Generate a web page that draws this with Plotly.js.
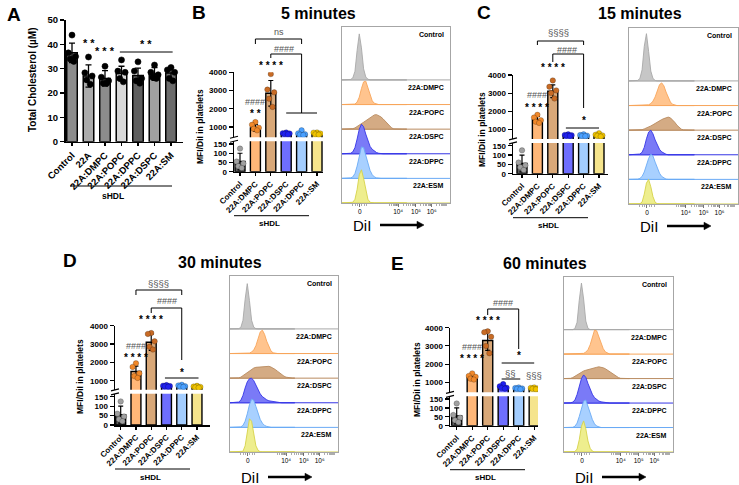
<!DOCTYPE html>
<html><head><meta charset="utf-8">
<script src="https://cdn.plot.ly/plotly-3.0.1.min.js"></script>
<style>html,body{margin:0;padding:0;background:#fff}#chart{width:739px;height:485px}</style>
</head><body><div id="chart"></div>
<script>
// ================= DATA =================
// Panel A: total cholesterol (µM)
const aCats = ["Control","22A","22A:DMPC","22A:POPC","22A:DPPC","22A:DSPC","22A:SM"];
const aMean = [36.5, 27, 26, 28, 27.2, 27.8, 28.2];
const aSD   = [4, 4.6, 3.2, 3, 3, 2.6, 2.4];
const aDots = [[43.8,36.5,35,34,33],[34.8,28.3,27,25.4,23.6],[31,26.5,25,24,24],[33.6,29,28.5,26,24.6],[32.8,29,26,25,24],[31.5,28.5,27.5,26.5,26],[30.5,29.5,28.5,26,25]];

// Panels B-E: MFI/DiI in platelets
const barCats = ["Control","22A:DMPC","22A:POPC","22A:DSPC","22A:DPPC","22A:SM"];
const mean5  = [55, 950, 2850, 620, 600, 620];
const sd5    = [45, 180, 700, 60, 110, 60];
const dots5  = [[125,55,45,30,20],[1270,1120,960,900,815],[3900,3050,2900,2550,2100],[700,660,640,620,600],[820,650,600,580,560],[700,690,640,600,580]];
const mean15 = [55, 1530, 3100, 650, 640, 650];
const sd15   = [45, 180, 350, 60, 60, 80];
const dots15 = [[125,60,45,35,20],[1800,1650,1500,1420,1350],[3700,3350,3150,3000,2700],[720,690,670,650,630],[720,680,650,630,620],[780,700,660,640,600]];
const mean30 = [55, 1500, 3100, 700, 700, 650];
const sd30   = [45, 300, 450, 50, 60, 50];
const dots30 = [[125,60,45,30,20],[1950,1750,1400,1250,1150],[3600,3550,3150,2850,2700],[760,730,710,690,670],[780,740,700,680,660],[720,680,660,640,620]];
const mean60 = [55, 1260, 3300, 720, 650, 650];
const sd60   = [45, 130, 550, 100, 50, 50];
const dots60 = [[125,60,45,30,20],[1490,1350,1300,1200,1150],[3800,3750,3500,3000,2600],[900,780,700,680,650],[720,680,660,640,620],[720,690,660,640,620]];

// Flow histograms (DiI channel, arbitrary display units), rows top->bottom
const histRows = ["Control","22A:DMPC","22A:POPC","22A:DSPC","22A:DPPC","22A:ESM"];
const histX = [0,2,4,6,8,10,12,14,16,18,20,22,24,26,28,30,32,34,36,38,40,42,44,46,48,50,52,54,56,58,60];
const histTickText = ["0","10⁴","10⁵","10⁶"];
const hist5 = [
 [0,0,0,0,0.02,0.08,0.35,1.2,1.87,1.3,0.45,0.12,0.03,0,0,0,0,0,0,0,0,0,0,0,0,0,0,0,0,0,0],
 [0,0,0,0,0,0,0.02,0.1,0.3,0.65,0.92,0.95,0.7,0.38,0.15,0.05,0.01,0,0,0,0,0,0,0,0,0,0,0,0,0,0],
 [0,0,0,0,0,0.02,0.05,0.1,0.16,0.22,0.28,0.34,0.4,0.46,0.53,0.58,0.59,0.56,0.5,0.42,0.32,0.22,0.12,0.05,0.01,0,0,0,0,0,0],
 [0,0,0,0,0.02,0.08,0.25,0.6,1.0,1.2,1.1,0.8,0.5,0.3,0.18,0.1,0.05,0.02,0,0,0,0,0,0,0,0,0,0,0,0,0],
 [0,0,0,0,0.02,0.06,0.2,0.5,0.95,1.28,1.25,0.95,0.6,0.32,0.15,0.06,0.02,0,0,0,0,0,0,0,0,0,0,0,0,0,0],
 [0,0,0,0,0,0.03,0.15,0.55,1.15,1.35,1.0,0.5,0.15,0.03,0,0,0,0,0,0,0,0,0,0,0,0,0,0,0,0,0]
];
const hist15 = [
 [0,0,0,0,0.02,0.1,0.45,1.4,1.92,1.2,0.4,0.1,0.02,0,0,0,0,0,0,0,0,0,0,0,0,0,0,0,0,0,0],
 [0,0,0,0,0,0,0,0,0.01,0.03,0.08,0.18,0.35,0.6,0.85,0.92,0.8,0.55,0.3,0.14,0.05,0.01,0,0,0,0,0,0,0,0,0],
 [0,0,0,0,0,0,0.02,0.05,0.08,0.12,0.17,0.22,0.28,0.33,0.38,0.43,0.47,0.5,0.53,0.5,0.42,0.32,0.2,0.1,0.04,0.01,0,0,0,0,0],
 [0,0,0,0,0,0.03,0.1,0.3,0.65,0.92,1.0,0.85,0.6,0.38,0.22,0.12,0.06,0.02,0,0,0,0,0,0,0,0,0,0,0,0,0],
 [0,0,0,0,0.01,0.04,0.12,0.3,0.6,0.85,1.02,0.95,0.7,0.45,0.25,0.12,0.05,0.01,0,0,0,0,0,0,0,0,0,0,0,0,0],
 [0,0,0,0,0,0.01,0.08,0.4,0.85,1.0,0.7,0.3,0.07,0.01,0,0,0,0,0,0,0,0,0,0,0,0,0,0,0,0,0]
];
const hist30 = [
 [0,0,0,0,0.01,0.06,0.35,1.2,1.84,1.15,0.35,0.07,0.01,0,0,0,0,0,0,0,0,0,0,0,0,0,0,0,0,0,0],
 [0,0,0,0,0,0,0,0,0,0.02,0.06,0.15,0.32,0.6,0.88,0.95,0.78,0.5,0.26,0.1,0.03,0,0,0,0,0,0,0,0,0,0],
 [0,0,0,0,0.01,0.04,0.1,0.17,0.24,0.3,0.36,0.41,0.44,0.45,0.46,0.47,0.49,0.5,0.48,0.45,0.41,0.35,0.28,0.2,0.13,0.08,0.04,0.02,0,0,0],
 [0,0,0,0,0.03,0.1,0.3,0.6,0.85,0.98,1.0,0.9,0.72,0.52,0.36,0.25,0.17,0.12,0.08,0.06,0.04,0.03,0.02,0.01,0,0,0,0,0,0,0],
 [0,0,0,0,0,0.02,0.08,0.25,0.55,0.92,1.15,1.1,0.85,0.55,0.32,0.17,0.08,0.04,0.01,0,0,0,0,0,0,0,0,0,0,0,0],
 [0,0,0,0,0,0,0.03,0.25,0.85,1.35,1.25,0.7,0.25,0.07,0.01,0,0,0,0,0,0,0,0,0,0,0,0,0,0,0,0]
];
const hist60 = [
 [0,0,0,0,0,0.04,0.3,1.2,1.9,1.25,0.35,0.05,0,0,0,0,0,0,0,0,0,0,0,0,0,0,0,0,0,0,0],
 [0,0,0,0,0,0,0,0,0.01,0.03,0.08,0.18,0.38,0.7,0.98,0.95,0.72,0.45,0.22,0.09,0.03,0,0,0,0,0,0,0,0,0,0],
 [0,0,0,0.01,0.04,0.1,0.16,0.22,0.27,0.31,0.34,0.37,0.4,0.42,0.44,0.46,0.48,0.47,0.44,0.4,0.34,0.27,0.2,0.13,0.08,0.04,0.01,0,0,0,0],
 [0,0,0,0.01,0.04,0.12,0.35,0.7,1.0,1.15,1.05,0.8,0.55,0.36,0.22,0.14,0.08,0.05,0.03,0.01,0,0,0,0,0,0,0,0,0,0,0],
 [0,0,0,0,0.01,0.05,0.18,0.45,0.8,1.08,1.12,0.9,0.6,0.33,0.15,0.06,0.02,0,0,0,0,0,0,0,0,0,0,0,0,0,0],
 [0,0,0,0,0,0.02,0.12,0.5,1.05,1.27,0.95,0.45,0.15,0.04,0,0,0,0,0,0,0,0,0,0,0,0,0,0,0,0,0]
];

// ================= STYLE / LAYOUT =================
const W = 739, H = 485;
const fx = p => p / W, fy = p => 1 - p / H;
const FONT = '"Liberation Sans", Arial, sans-serif';
const aFill = ['#8c8c8c','#ababab','#8c8c8c','#d9d9d9','#5e5e5e','#a0a0a0','#6b6b6b'];
const barFill = ['#5c5c5c','#ffb778','#d9a878','#6e6eff','#a3cdff','#f5e48c'];
const dotFill = ['#a0a0a0','#f0882a','#c86b25','#2020f0','#4aa0ff','#f0c400'];
const histFill = ['#c6c6c6','#ffc48e','#d4ab84','#7a7af7','#a8d0ff','#eeee8e'];
const histLine = ['#a8a8a8','#f7a55a','#b98b60','#3535e6','#6aaaf5','#d6d24a'];
const offs = [0,-0.22,0.22,-0.11,0.11];
const GRAY = '#555';

// biexponential-style axis decoration (major tick positions of the histogram display axis)
const HMAJ = [16.5, 52, 68.5, 83];
const HMINOR = [];
[10, 12.5, 14.5, 18.5, 20.5, 23].forEach(v => HMINOR.push(v));
[2,3,4,5,6,7,8,9].forEach(n => {
  HMINOR.push(40 + 12 * Math.log10(n));
  HMINOR.push(HMAJ[1] + (HMAJ[2] - HMAJ[1]) * Math.log10(n));
  HMINOR.push(HMAJ[2] + (HMAJ[3] - HMAJ[2]) * Math.log10(n));
  HMINOR.push(HMAJ[3] + 14.5 * Math.log10(n));
});

const data = [], shapes = [], ann = [];
const layout = {width:W, height:H, margin:{l:0,r:0,t:0,b:0}, paper_bgcolor:'#fff', plot_bgcolor:'rgba(0,0,0,0)',
  showlegend:false, font:{family:FONT, color:'#000'}};
let xc = 0, yc = 0;
const nx = () => { xc++; return xc === 1 ? '' : String(xc); };
const ny = () => { yc++; return yc === 1 ? '' : String(yc); };

function ptxt(x, y, t, size, weight, o = {}) {
  ann.push(Object.assign({xref:'paper', yref:'paper', x:fx(x), y:fy(y), text:t, showarrow:false,
    xanchor:'center', yanchor:'middle', font:{family:FONT, size, weight, color:o.color || '#000'}}, o.extra || {}));
}
function pline(x0, y0, x1, y1, w = 1, c = '#000') {
  shapes.push({type:'line', xref:'paper', yref:'paper', x0:fx(x0), y0:fy(y0), x1:fx(x1), y1:fy(y1), line:{color:c, width:w}});
}
function seg(xid, pts) {
  for (let i = 0; i < pts.length - 1; i++)
    shapes.push({type:'line', xref:xid, yref:'paper', x0:pts[i][0], y0:fy(pts[i][1]), x1:pts[i+1][0], y1:fy(pts[i+1][1]), line:{color:'#000', width:1}});
}
function stxt(xid, x, y, t, size = 10, color = '#000', weight = 'bold') {
  ann.push({xref:xid, yref:'paper', x, y:fy(y), text:t, showarrow:false, xanchor:'center', yanchor:'middle',
    font:{family:FONT, size, color, weight}});
}
function arrowShape(x0, x1, y) {
  pline(x0, y, x1 - 6, y, 2.4);
  shapes.push({type:'path', xref:'paper', yref:'paper', fillcolor:'#000', line:{color:'#000', width:0.5},
    path:`M ${fx(x1 - 7)} ${fy(y - 3.8)} L ${fx(x1)} ${fy(y)} L ${fx(x1 - 7)} ${fy(y + 3.8)} Z`});
}
function catAxis(dom, range, cats, anchor, fs) {
  return {domain:dom, range, anchor, showline:true, linecolor:'#000', linewidth:1.5, ticks:'outside', ticklen:3,
    tickwidth:1.2, tickcolor:'#000', tickangle:-45, tickvals:cats.map((_, i) => i), ticktext:cats,
    tickfont:{family:FONT, size:fs, weight:'bold', color:'#000'}, showgrid:false, zeroline:false, fixedrange:true};
}
function valAxis(dom, range, tv, anchor, fs) {
  return {domain:dom, range, anchor, showline:true, linecolor:'#000', linewidth:1.5, ticks:'outside', ticklen:4,
    tickwidth:1.2, tickcolor:'#000', tickvals:tv, ticktext:tv.map(String),
    tickfont:{family:FONT, size:fs, weight:'bold', color:'#000'}, showgrid:false, zeroline:false, fixedrange:true};
}
function dotsTrace(dots, xid, yid, colors, size, lineC) {
  const xs = [], ys = [], cs = [];
  dots.forEach((arr, i) => arr.forEach((v, j) => { xs.push(i + offs[j % offs.length]); ys.push(v); cs.push(colors[i]); }));
  return {type:'scatter', mode:'markers', x:xs, y:ys, xaxis:xid, yaxis:yid, hoverinfo:'skip',
    marker:{size, color:cs, line:{color:lineC || 'rgba(0,0,0,0.35)', width:0.6}}};
}

// ---------- Panel A ----------
(function () {
  const xs = nx(), ys = ny();
  const xid = 'x' + xs, yid = 'y' + ys;
  const xL = 65.5, xR = 183, c0 = 72, sp = 16.5;
  layout['xaxis' + xs] = catAxis([fx(xL), fx(xR)], [(xL - c0) / sp, (xR - c0) / sp], aCats, yid, 9.5);
  layout['yaxis' + ys] = valAxis([fy(141.7), fy(20)], [0, 50], [0,10,20,30,40,50], xid, 9.5);
  data.push({type:'bar', x:aCats.map((_, i) => i), y:aMean, xaxis:xid, yaxis:yid, width:0.64, hoverinfo:'skip',
    marker:{color:aFill, line:{color:'#000', width:1.5}},
    error_y:{type:'data', array:aSD, visible:true, color:'#000', thickness:1.3, width:3}});
  data.push(dotsTrace(aDots, xid, yid, aDots.map(() => '#000'), 6, '#000'));
  stxt(xid, 1, 43, '* *', 11);
  stxt(xid, 2, 51, '* * *', 11);
  stxt(xid, 4.5, 44, '* *', 11);
  seg(xid, [[2.9, 52], [6.1, 52]]);
  ann.push({xref:'paper', yref:'paper', x:fx(33), y:fy(80), text:'Total Cholesterol (µM)', textangle:-90, showarrow:false,
    xanchor:'center', yanchor:'middle', font:{family:FONT, size:10, weight:'bold', color:'#000'}});
  pline(70, 186, 172, 186, 1);
  ptxt(113, 196, 'sHDL', 8.5, 'bold');
  ptxt(14, 14, 'A', 19, 'bold');
})();

// ---------- Panels B-E (broken y axis) ----------
const LMAX = 165, GAP = 4;
function barPanel(p) {
  const xs = nx(), yl = ny(), yu = ny();
  const xid = 'x' + xs, ylo = 'y' + yl, yhi = 'y' + yu;
  const kL = (p.y0 - p.y150) / 150, lowTop = p.y0 - LMAX * kL;
  const kU = (p.y1000 - p.y4000) / 3000, upBot = lowTop - GAP, upMin = 1000 - (upBot - p.y1000) / kU;
  layout['xaxis' + xs] = catAxis([fx(p.xL), fx(p.xR)], [(p.xL - p.c0) / p.sp, (p.xR - p.c0) / p.sp], barCats, ylo, 8);
  layout['yaxis' + yl] = valAxis([fy(p.y0), fy(lowTop)], [0, LMAX], [0,50,100,150], xid, 8);
  layout['yaxis' + yu] = valAxis([fy(upBot), fy(p.y4000)], [upMin, 4000], [1000,2000,3000,4000], xid, 8);
  [ylo, yhi].forEach(yid => {
    data.push({type:'bar', x:barCats.map((_, i) => i), y:p.mean, xaxis:xid, yaxis:yid, width:0.65, hoverinfo:'skip',
      marker:{color:barFill, line:{color:'#000', width:1.4}},
      error_y:{type:'data', array:p.sd, visible:true, color:'#000', thickness:1.2, width:2.5}});
    data.push(dotsTrace(p.dots, xid, yid, dotFill, 5.5));
  });
  // axis break marks
  pline(p.xL - 4, upBot + 1, p.xL + 4, upBot - 1, 1.2);
  pline(p.xL - 4, lowTop + 1, p.xL + 4, lowTop - 1, 1.2);
  ann.push({xref:'paper', yref:'paper', x:fx(p.ytX), y:fy(p.ytY), text:'MFI/DiI in platelets', textangle:-90, showarrow:false,
    xanchor:'center', yanchor:'middle', font:{family:FONT, size:8.5, weight:'bold', color:'#000'}});
  pline(p.xL, p.y0 + 44, p.xL + 75, p.y0 + 44, 1);
  ptxt(p.xL + 35, p.y0 + 52, 'sHDL', 8, 'bold');
  ptxt(p.letX, p.letY, p.letter, 19, 'bold');
  ptxt(p.tX, p.tY, p.title, 16, 'bold');
  p.sig(xid);
}

barPanel({letter:'B', letX:199, letY:12, title:'5 minutes', tX:318, tY:13, mean:mean5, sd:sd5, dots:dots5,
  xL:234, xR:323, c0:240, sp:15.4, y4000:72.3, y1000:127, y150:144, y0:171.7, ytX:200, ytY:127,
  sig: x => {
    stxt(x, 1, 113, '* *'); stxt(x, 1, 102, '####', 9, GRAY, 'normal'); stxt(x, 2, 66, '* * * *');
    stxt(x, 2.5, 32, 'ns', 9, GRAY, 'normal'); seg(x, [[1,44],[1,39],[4,39],[4,44]]);
    stxt(x, 2.86, 49, '####', 9, GRAY, 'normal'); seg(x, [[2,58],[2,54],[4,54],[4,113]]); seg(x, [[3,113],[5,113]]);
  }});
barPanel({letter:'C', letX:484, letY:12, title:'15 minutes', tX:640, tY:13, mean:mean15, sd:sd15, dots:dots15,
  xL:513, xR:608, c0:522, sp:15.4, y4000:75, y1000:129.3, y150:145.7, y0:173.7, ytX:482, ytY:130,
  sig: x => {
    stxt(x, 1, 107, '* * * *'); stxt(x, 1, 95, '####', 9, GRAY, 'normal'); stxt(x, 2, 68, '* * * *');
    stxt(x, 2.34, 33, '§§§§', 9.5, GRAY, 'normal'); seg(x, [[1,45],[1,41],[4,41],[4,45]]);
    stxt(x, 2.9, 50, '####', 9, GRAY, 'normal'); seg(x, [[2,62],[2,54],[4,54],[4,108]]);
    stxt(x, 4, 120, '*'); seg(x, [[2.85,128],[5,128]]);
  }});
barPanel({letter:'D', letX:70, letY:260, title:'30 minutes', tX:220, tY:262, mean:mean30, sd:sd30, dots:dots30,
  xL:115, xR:210, c0:120.7, sp:15.26, y4000:325.7, y1000:380.7, y150:396.7, y0:425, ytX:80, ytY:377,
  sig: x => {
    stxt(x, 1, 357, '* * * *'); stxt(x, 1, 346, '####', 9, GRAY, 'normal'); stxt(x, 2, 319, '* * * *');
    stxt(x, 2.5, 283, '§§§§', 9.5, GRAY, 'normal'); seg(x, [[1,295],[1,290],[4,290],[4,295]]);
    stxt(x, 3.03, 301, '####', 9, GRAY, 'normal'); seg(x, [[2,313],[2,308],[4,308],[4,360]]);
    stxt(x, 4, 372, '*'); seg(x, [[2.9,378],[5.1,378]]);
  }});
barPanel({letter:'E', letX:397, letY:263, title:'60 minutes', tX:545, tY:263, mean:mean60, sd:sd60, dots:dots60,
  xL:450, xR:538, c0:456.7, sp:15.5, y4000:327.7, y1000:382.3, y150:399, y0:425.7, ytX:417, ytY:380,
  sig: x => {
    stxt(x, 1, 358, '* * * *'); stxt(x, 1, 347, '####', 9, GRAY, 'normal'); stxt(x, 2, 320, '* * * *');
    stxt(x, 3.0, 303, '####', 9, GRAY, 'normal'); seg(x, [[2,315],[2,309],[4,309],[4,349]]);
    stxt(x, 4, 355, '*'); seg(x, [[2.9,363],[5,363]]);
    stxt(x, 3.5, 373, '§§', 9.5, GRAY, 'normal'); seg(x, [[2.9,379],[4.1,379]]);
    stxt(x, 5, 375, '§§§', 9.5, GRAY, 'normal');
  }});

// ---------- Histograms ----------
const HTOP = 7.15;
const rowBase = [5, 4, 3, 2, 1, 0];
function histPanel(p) {
  const xs = nx(), ys = ny();
  const xid = 'x' + xs, yid = 'y' + ys;
  layout['xaxis' + xs] = {domain:[fx(p.x0), fx(p.x1)], range:[0, 100], anchor:yid, showline:true, mirror:true,
    linecolor:'#a6a6a6', linewidth:1, ticks:'outside', ticklen:2.5, tickwidth:0.8, tickcolor:'#555',
    tickvals:HMAJ, ticktext:histTickText, tickfont:{family:FONT, size:6.5, color:'#000'},
    minor:{tickmode:'array', tickvals:HMINOR, ticks:'outside', ticklen:1.5, tickwidth:0.6, tickcolor:'#777', showgrid:false},
    showgrid:false, zeroline:false, fixedrange:true};
  layout['yaxis' + ys] = {domain:[fy(p.y1), fy(p.y0)], range:[0, HTOP], anchor:xid, showline:true, mirror:true,
    linecolor:'#a6a6a6', linewidth:1, ticks:'', showticklabels:false, showgrid:false, zeroline:false, fixedrange:true};
  const unit = (p.y1 - p.y0) / HTOP;
  p.curves.forEach((vals, r) => {
    const b = rowBase[r];
    data.push({type:'scatter', mode:'lines', x:[0, 100], y:[b, b], xaxis:xid, yaxis:yid, hoverinfo:'skip',
      line:{color:histLine[r], width:1}});
    const xx = histX.concat([histX[histX.length - 1], histX[0]]);
    const yy = vals.map(v => b + v).concat([b, b]);
    data.push({type:'scatter', mode:'lines', x:xx, y:yy, xaxis:xid, yaxis:yid, hoverinfo:'skip', fill:'toself',
      fillcolor:histFill[r], line:{color:histLine[r], width:0.9}});
    const topU = r === 0 ? HTOP : b + 1;
    const topPx = p.y1 - topU * unit;
    ptxt(p.x1 - 4, topPx + 7.5, histRows[r], 7, 'bold', {extra:{xanchor:'right'}});
  });
  ptxt(p.x0 + 20, p.y1 + p.dy, 'DiI', 15, 'normal');
  arrowShape(p.x0 + 38, p.x0 + 82, p.y1 + p.dy);
}
histPanel({x0:342, x1:450, y0:27, y1:203, dy:22, curves:hist5});
histPanel({x0:629, x1:738, y0:28, y1:204, dy:22, curves:hist15});
histPanel({x0:230, x1:338, y0:276, y1:452, dy:25, curves:hist30});
histPanel({x0:564, x1:673, y0:277, y1:452, dy:25, curves:hist60});

layout.shapes = shapes;
layout.annotations = ann;
Plotly.newPlot('chart', data, layout, {staticPlot:true, displayModeBar:false});
</script>
</body></html>
